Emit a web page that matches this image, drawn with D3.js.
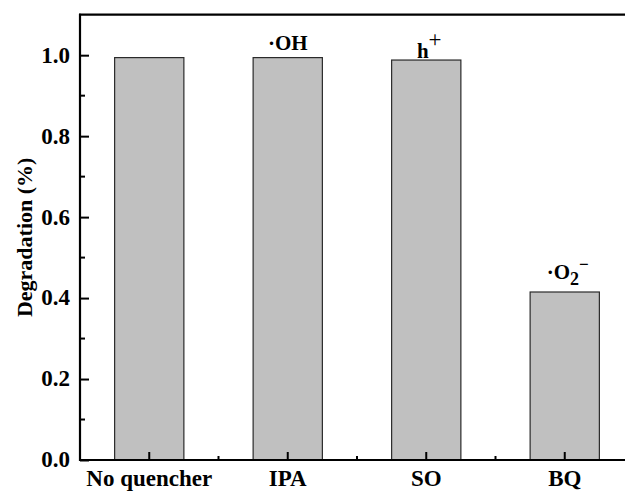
<!DOCTYPE html>
<html>
<head>
<meta charset="utf-8">
<script src="https://cdn.jsdelivr.net/npm/d3@7"></script>
<style>
  html, body { margin: 0; padding: 0; background: #fff; overflow: hidden; }
  svg { display: block; font-family: "Liberation Serif", "Times New Roman", serif; font-weight: bold; }
</style>
</head>
<body>
<svg id="chart" width="625" height="491"></svg>
<script>
const categories = ['No quencher', 'IPA', 'SO', 'BQ'];
const degradation = [0.994, 0.994, 0.988, 0.415];
const species = [null, 'OH', 'h', 'O2'];
const yMajorTicks = [0, 0.2, 0.4, 0.6, 0.8, 1.0];
const yMinorTicks = [0.1, 0.3, 0.5, 0.7, 0.9];

const svg = d3.select('#chart');
const mLeft = 80, mTop = 14.7, mBottom = 460, mRight = 634;

const x = d3.scaleBand()
  .domain(categories)
  .range([mLeft, mRight])
  .paddingInner(0.5)
  .paddingOuter(0.25);

const y = d3.scaleLinear()
  .domain([0, 1.1])
  .range([mBottom, mTop]);

// bars
svg.append('g')
  .selectAll('rect')
  .data(categories)
  .join('rect')
  .attr('x', (d) => x(d))
  .attr('y', (d, i) => y(degradation[i]))
  .attr('width', x.bandwidth())
  .attr('height', (d, i) => y(0) - y(degradation[i]))
  .attr('fill', '#c0c0c0')
  .attr('stroke', '#2a2a2a')
  .attr('stroke-width', 1.2);

// y axis
const yAxis = svg.append('g').attr('transform', `translate(${mLeft},0)`);
yAxis.call(d3.axisLeft(y).tickValues(yMajorTicks).tickSize(-9).tickPadding(10)
  .tickFormat(d3.format('.1f')));
yAxis.select('.domain').remove();
yAxis.selectAll('.tick line').attr('stroke', '#000').attr('stroke-width', 2);
yAxis.selectAll('.tick text')
  .attr('fill', '#000')
  .attr('font-size', 23)
  .attr('dy', '0.3em')
  .attr('font-family', '"Liberation Serif", serif')
  .attr('font-weight', 'bold');
yAxis.selectAll('.minor')
  .data(yMinorTicks)
  .join('line')
  .attr('class', 'minor')
  .attr('x1', 0).attr('x2', 5)
  .attr('y1', (d) => y(d)).attr('y2', (d) => y(d))
  .attr('stroke', '#000').attr('stroke-width', 2);

// x axis
const xAxis = svg.append('g').attr('transform', `translate(0,${mBottom})`);
xAxis.call(d3.axisBottom(x).tickSize(-8).tickPadding(9.5));
xAxis.select('.domain').remove();
xAxis.selectAll('.tick line').attr('stroke', '#000').attr('stroke-width', 2);
xAxis.selectAll('.tick text')
  .attr('fill', '#000')
  .attr('font-size', 23)
  .attr('font-family', '"Liberation Serif", serif')
  .attr('font-weight', 'bold');
const mids = categories.slice(1).map((c) => x(c) - x.step() * x.paddingInner() / 2);
xAxis.selectAll('.minor')
  .data(mids)
  .join('line')
  .attr('class', 'minor')
  .attr('x1', (d) => d).attr('x2', (d) => d)
  .attr('y1', 0).attr('y2', -4)
  .attr('stroke', '#000').attr('stroke-width', 2);

// frame lines
svg.append('line')
  .attr('x1', mLeft).attr('x2', mLeft).attr('y1', mTop - 1).attr('y2', mBottom + 1)
  .attr('stroke', '#000').attr('stroke-width', 2.2);
svg.append('line')
  .attr('x1', mLeft - 1).attr('x2', mRight).attr('y1', mBottom).attr('y2', mBottom)
  .attr('stroke', '#000').attr('stroke-width', 2.2);
svg.append('line')
  .attr('x1', mLeft - 1).attr('x2', mRight).attr('y1', mTop).attr('y2', mTop)
  .attr('stroke', '#000').attr('stroke-width', 2.2);

// y title
svg.append('text')
  .attr('transform', `translate(32,${(mTop + mBottom) / 2}) rotate(-90)`)
  .attr('text-anchor', 'middle')
  .attr('font-size', 22)
  .text('Degradation (%)');

// radical labels
const lab = svg.append('g').attr('font-size', 21);
categories.forEach((c, i) => {
  const s = species[i];
  if (!s) return;
  const cx = x(c) + x.bandwidth() / 2;
  const by = y(degradation[i]) - 8;
  const t = lab.append('text').attr('x', cx).attr('y', by).attr('text-anchor', 'middle');
  if (s === 'OH') {
    t.text('\u00b7OH');
  } else if (s === 'h') {
    t.attr('y', by + 6).attr('x', cx + 3);
    t.append('tspan').text('h');
    t.append('tspan').attr('dy', -11).attr('font-weight', 'normal').attr('font-size', 23).text('+');
  } else {
    t.attr('y', by - 5).attr('x', cx + 3);
    t.append('tspan').text('\u00b7O');
    t.append('tspan').attr('dy', 6).attr('font-size', 18).text('2');
    t.append('tspan').attr('dy', -15).attr('font-size', 17).text('\u2212');
  }
});
</script>
</body>
</html>
